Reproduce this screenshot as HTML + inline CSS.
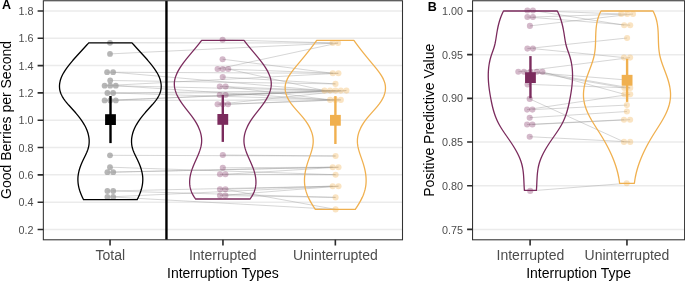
<!DOCTYPE html><html><head><meta charset="utf-8"><style>html,body{margin:0;padding:0;background:#fff;}svg{display:block;will-change:transform;font-family:"Liberation Sans",sans-serif;}</style></head><body>
<svg width="685" height="281" viewBox="0 0 685 281">
<path d="M43.4 229.50H402.5 M43.4 202.18H402.5 M43.4 174.86H402.5 M43.4 147.54H402.5 M43.4 120.22H402.5 M43.4 92.90H402.5 M43.4 65.58H402.5 M43.4 38.26H402.5 M43.4 10.94H402.5 M472.6 229.40H684.6 M472.6 185.71H684.6 M472.6 142.02H684.6 M472.6 98.33H684.6 M472.6 54.64H684.6 M472.6 10.95H684.6" stroke="#ebebeb" stroke-width="1.5" fill="none"/>
<g stroke="#9a9a9a" stroke-width="0.90" fill="none" stroke-opacity="0.45">
<path d="M110.0 42.8L332.6 43.0"/>
<path d="M110.0 53.9L338.1 43.0"/>
<path d="M107.1 72.2L332.8 73.3"/>
<path d="M113.1 72.2L324.5 90.6"/>
<path d="M110.2 80.5L335.5 83.9"/>
<path d="M104.6 85.7L338.4 73.3"/>
<path d="M110.2 85.7L330.1 90.6"/>
<path d="M115.8 85.7L330.1 99.9"/>
<path d="M107.4 93.0L335.5 90.6"/>
<path d="M113.1 93.0L340.8 99.9"/>
<path d="M104.6 100.4L340.8 90.6"/>
<path d="M115.8 100.4L335.4 99.9"/>
<path d="M110.0 155.3L335.6 156.0"/>
<path d="M110.0 167.2L335.6 174.7"/>
<path d="M107.4 172.2L332.7 167.2"/>
<path d="M113.2 172.2L338.5 167.2"/>
<path d="M107.4 191.0L332.7 186.2"/>
<path d="M113.2 191.0L335.6 197.4"/>
<path d="M107.4 197.0L338.5 186.2"/>
<path d="M113.2 197.0L335.6 209.4"/>
<path d="M110.2 100.4L346.4 90.6"/>
<path d="M222.6 39.8L332.6 43.0"/>
<path d="M222.6 59.2L332.8 73.3"/>
<path d="M217.6 69.0L338.1 43.0"/>
<path d="M222.7 69.0L338.4 73.3"/>
<path d="M228.2 69.0L324.5 90.6"/>
<path d="M222.7 77.0L335.5 83.9"/>
<path d="M219.8 86.5L330.1 90.6"/>
<path d="M225.6 86.5L330.1 99.9"/>
<path d="M219.8 95.0L335.5 90.6"/>
<path d="M225.6 95.0L340.8 90.6"/>
<path d="M217.6 104.3L346.4 90.6"/>
<path d="M228.0 104.3L340.8 99.9"/>
<path d="M222.8 155.0L335.6 156.0"/>
<path d="M222.8 167.8L332.7 167.2"/>
<path d="M220.0 174.3L335.6 174.7"/>
<path d="M225.4 174.3L338.5 167.2"/>
<path d="M220.0 189.3L332.7 186.2"/>
<path d="M225.4 189.3L335.6 209.4"/>
<path d="M220.0 195.6L338.5 186.2"/>
<path d="M225.4 195.6L335.6 197.4"/>
<path d="M222.8 104.3L335.4 99.9"/>
<path d="M527.4 10.5L621.2 14.0"/>
<path d="M532.9 10.5L624.2 25.2"/>
<path d="M527.4 17.0L630.2 25.2"/>
<path d="M532.9 17.0L627.2 14.0"/>
<path d="M529.9 25.9L633.0 14.0"/>
<path d="M527.4 48.6L627.1 38.0"/>
<path d="M532.9 48.6L624.0 57.6"/>
<path d="M518.3 71.8L630.1 57.6"/>
<path d="M524.0 71.8L627.1 80.0"/>
<path d="M530.4 71.8L624.4 87.9"/>
<path d="M536.8 71.8L630.2 87.9"/>
<path d="M542.4 71.8L624.4 94.3"/>
<path d="M529.7 98.9L624.0 141.9"/>
<path d="M527.1 109.6L630.2 94.3"/>
<path d="M532.4 109.6L626.9 105.1"/>
<path d="M529.7 117.7L626.9 111.5"/>
<path d="M527.1 124.5L624.0 119.7"/>
<path d="M532.4 124.5L630.1 119.7"/>
<path d="M529.7 136.7L630.2 141.9"/>
<path d="M530.2 190.9L626.7 183.3"/>
<path d="M527.6 84.4L630.2 87.9"/>
</g>
<g fill="#9e9e9e" fill-opacity="0.75"><circle cx="110.0" cy="42.8" r="2.90"/><circle cx="110.0" cy="53.9" r="2.90"/><circle cx="107.1" cy="72.2" r="2.90"/><circle cx="113.1" cy="72.2" r="2.90"/><circle cx="110.2" cy="80.5" r="2.90"/><circle cx="104.6" cy="85.7" r="2.90"/><circle cx="110.2" cy="85.7" r="2.90"/><circle cx="115.8" cy="85.7" r="2.90"/><circle cx="107.4" cy="93.0" r="2.90"/><circle cx="113.1" cy="93.0" r="2.90"/><circle cx="104.6" cy="100.4" r="2.90"/><circle cx="115.8" cy="100.4" r="2.90"/><circle cx="110.0" cy="155.3" r="2.90"/><circle cx="110.0" cy="167.2" r="2.90"/><circle cx="107.4" cy="172.2" r="2.90"/><circle cx="113.2" cy="172.2" r="2.90"/><circle cx="107.4" cy="191.0" r="2.90"/><circle cx="113.2" cy="191.0" r="2.90"/><circle cx="107.4" cy="197.0" r="2.90"/><circle cx="113.2" cy="197.0" r="2.90"/><circle cx="110.2" cy="100.4" r="2.90"/></g>
<g fill="#7b2b5d" fill-opacity="0.33"><circle cx="222.6" cy="39.8" r="3.05"/><circle cx="222.6" cy="59.2" r="3.05"/><circle cx="217.6" cy="69.0" r="3.05"/><circle cx="222.7" cy="69.0" r="3.05"/><circle cx="228.2" cy="69.0" r="3.05"/><circle cx="222.7" cy="77.0" r="3.05"/><circle cx="219.8" cy="86.5" r="3.05"/><circle cx="225.6" cy="86.5" r="3.05"/><circle cx="219.8" cy="95.0" r="3.05"/><circle cx="225.6" cy="95.0" r="3.05"/><circle cx="217.6" cy="104.3" r="3.05"/><circle cx="228.0" cy="104.3" r="3.05"/><circle cx="222.8" cy="155.0" r="3.05"/><circle cx="222.8" cy="167.8" r="3.05"/><circle cx="220.0" cy="174.3" r="3.05"/><circle cx="225.4" cy="174.3" r="3.05"/><circle cx="220.0" cy="189.3" r="3.05"/><circle cx="225.4" cy="189.3" r="3.05"/><circle cx="220.0" cy="195.6" r="3.05"/><circle cx="225.4" cy="195.6" r="3.05"/><circle cx="222.8" cy="104.3" r="3.05"/><circle cx="527.4" cy="10.5" r="3.05"/><circle cx="532.9" cy="10.5" r="3.05"/><circle cx="527.4" cy="17.0" r="3.05"/><circle cx="532.9" cy="17.0" r="3.05"/><circle cx="529.9" cy="25.9" r="3.05"/><circle cx="527.4" cy="48.6" r="3.05"/><circle cx="532.9" cy="48.6" r="3.05"/><circle cx="518.3" cy="71.8" r="3.05"/><circle cx="524.0" cy="71.8" r="3.05"/><circle cx="530.4" cy="71.8" r="3.05"/><circle cx="536.8" cy="71.8" r="3.05"/><circle cx="542.4" cy="71.8" r="3.05"/><circle cx="529.7" cy="98.9" r="3.05"/><circle cx="527.1" cy="109.6" r="3.05"/><circle cx="532.4" cy="109.6" r="3.05"/><circle cx="529.7" cy="117.7" r="3.05"/><circle cx="527.1" cy="124.5" r="3.05"/><circle cx="532.4" cy="124.5" r="3.05"/><circle cx="529.7" cy="136.7" r="3.05"/><circle cx="530.2" cy="190.9" r="3.05"/><circle cx="527.6" cy="84.4" r="3.05"/></g>
<g fill="#f0b04f" fill-opacity="0.34"><circle cx="332.6" cy="43.0" r="3.05"/><circle cx="338.1" cy="43.0" r="3.05"/><circle cx="332.8" cy="73.3" r="3.05"/><circle cx="338.4" cy="73.3" r="3.05"/><circle cx="335.5" cy="83.9" r="3.05"/><circle cx="324.5" cy="90.6" r="3.05"/><circle cx="330.1" cy="90.6" r="3.05"/><circle cx="335.5" cy="90.6" r="3.05"/><circle cx="340.8" cy="90.6" r="3.05"/><circle cx="346.4" cy="90.6" r="3.05"/><circle cx="330.1" cy="99.9" r="3.05"/><circle cx="340.8" cy="99.9" r="3.05"/><circle cx="335.6" cy="156.0" r="3.05"/><circle cx="332.7" cy="167.2" r="3.05"/><circle cx="338.5" cy="167.2" r="3.05"/><circle cx="335.6" cy="174.7" r="3.05"/><circle cx="332.7" cy="186.2" r="3.05"/><circle cx="338.5" cy="186.2" r="3.05"/><circle cx="335.6" cy="197.4" r="3.05"/><circle cx="335.6" cy="209.4" r="3.05"/><circle cx="335.4" cy="99.9" r="3.05"/><circle cx="621.2" cy="14.0" r="3.05"/><circle cx="627.2" cy="14.0" r="3.05"/><circle cx="633.0" cy="14.0" r="3.05"/><circle cx="624.2" cy="25.2" r="3.05"/><circle cx="630.2" cy="25.2" r="3.05"/><circle cx="627.1" cy="38.0" r="3.05"/><circle cx="624.0" cy="57.6" r="3.05"/><circle cx="630.1" cy="57.6" r="3.05"/><circle cx="627.1" cy="80.0" r="3.05"/><circle cx="624.4" cy="87.9" r="3.05"/><circle cx="630.2" cy="87.9" r="3.05"/><circle cx="624.4" cy="94.3" r="3.05"/><circle cx="630.2" cy="94.3" r="3.05"/><circle cx="626.9" cy="105.1" r="3.05"/><circle cx="626.9" cy="111.5" r="3.05"/><circle cx="624.0" cy="119.7" r="3.05"/><circle cx="630.1" cy="119.7" r="3.05"/><circle cx="624.0" cy="141.9" r="3.05"/><circle cx="630.2" cy="141.9" r="3.05"/><circle cx="626.7" cy="183.3" r="3.05"/></g>
<g fill="none" stroke-width="1.3" stroke-linejoin="round">
<path d="M88.70 42.80 L88.27 43.30 L87.84 43.80 L87.41 44.30 L86.97 44.80 L86.53 45.30 L86.09 45.80 L85.64 46.30 L85.20 46.80 L84.75 47.30 L84.29 47.80 L83.84 48.30 L83.39 48.80 L82.93 49.30 L82.47 49.80 L82.01 50.30 L81.55 50.80 L81.09 51.30 L80.63 51.80 L80.17 52.30 L79.71 52.80 L79.25 53.30 L78.79 53.80 L78.33 54.30 L77.87 54.80 L77.41 55.30 L76.95 55.80 L76.50 56.30 L76.05 56.80 L75.59 57.30 L75.14 57.80 L74.70 58.30 L74.25 58.80 L73.81 59.30 L73.37 59.80 L72.93 60.30 L72.50 60.80 L72.07 61.30 L71.65 61.80 L71.22 62.30 L70.81 62.80 L70.39 63.30 L69.98 63.80 L69.58 64.30 L69.18 64.80 L68.79 65.30 L68.40 65.80 L68.02 66.30 L67.64 66.80 L67.27 67.30 L66.90 67.80 L66.54 68.30 L66.19 68.80 L65.84 69.30 L65.51 69.80 L65.17 70.30 L64.85 70.80 L64.53 71.30 L64.22 71.80 L63.92 72.30 L63.63 72.80 L63.35 73.30 L63.07 73.80 L62.80 74.30 L62.55 74.80 L62.30 75.30 L62.06 75.80 L61.83 76.30 L61.61 76.80 L61.40 77.30 L61.20 77.80 L61.01 78.30 L60.83 78.80 L60.66 79.30 L60.50 79.80 L60.36 80.30 L60.22 80.80 L60.09 81.30 L59.98 81.80 L59.88 82.30 L59.79 82.80 L59.71 83.30 L59.64 83.80 L59.58 84.30 L59.54 84.80 L59.51 85.30 L59.49 85.80 L59.48 86.30 L59.49 86.80 L59.51 87.30 L59.54 87.80 L59.58 88.30 L59.64 88.80 L59.71 89.30 L59.80 89.80 L59.90 90.30 L60.01 90.80 L60.13 91.30 L60.27 91.80 L60.43 92.30 L60.60 92.80 L60.78 93.30 L60.98 93.80 L61.19 94.30 L61.42 94.80 L61.66 95.30 L61.92 95.80 L62.19 96.30 L62.48 96.80 L62.78 97.30 L63.09 97.80 L63.41 98.30 L63.74 98.80 L64.09 99.30 L64.45 99.80 L64.81 100.30 L65.19 100.80 L65.57 101.30 L65.97 101.80 L66.37 102.30 L66.78 102.80 L67.19 103.30 L67.61 103.80 L68.04 104.30 L68.47 104.80 L68.91 105.30 L69.35 105.80 L69.79 106.30 L70.24 106.80 L70.69 107.30 L71.14 107.80 L71.59 108.30 L72.04 108.80 L72.49 109.30 L72.95 109.80 L73.40 110.30 L73.85 110.80 L74.30 111.30 L74.74 111.80 L75.19 112.30 L75.63 112.80 L76.06 113.30 L76.49 113.80 L76.92 114.30 L77.34 114.80 L77.75 115.30 L78.16 115.80 L78.56 116.30 L78.95 116.80 L79.34 117.30 L79.72 117.80 L80.10 118.30 L80.47 118.80 L80.83 119.30 L81.18 119.80 L81.53 120.30 L81.87 120.80 L82.21 121.30 L82.53 121.80 L82.85 122.30 L83.17 122.80 L83.47 123.30 L83.77 123.80 L84.06 124.30 L84.35 124.80 L84.62 125.30 L84.89 125.80 L85.15 126.30 L85.41 126.80 L85.65 127.30 L85.89 127.80 L86.12 128.30 L86.35 128.80 L86.56 129.30 L86.77 129.80 L86.97 130.30 L87.16 130.80 L87.34 131.30 L87.51 131.80 L87.68 132.30 L87.84 132.80 L87.99 133.30 L88.13 133.80 L88.26 134.30 L88.38 134.80 L88.50 135.30 L88.60 135.80 L88.70 136.30 L88.79 136.80 L88.87 137.30 L88.94 137.80 L89.00 138.30 L89.05 138.80 L89.10 139.30 L89.13 139.80 L89.15 140.30 L89.17 140.80 L89.17 141.30 L89.17 141.80 L89.16 142.30 L89.13 142.80 L89.10 143.30 L89.06 143.80 L89.00 144.30 L88.94 144.80 L88.87 145.30 L88.79 145.80 L88.69 146.30 L88.59 146.80 L88.48 147.30 L88.36 147.80 L88.22 148.30 L88.08 148.80 L87.93 149.30 L87.76 149.80 L87.59 150.30 L87.40 150.80 L87.21 151.30 L87.01 151.80 L86.81 152.30 L86.59 152.80 L86.37 153.30 L86.15 153.80 L85.92 154.30 L85.69 154.80 L85.45 155.30 L85.21 155.80 L84.97 156.30 L84.72 156.80 L84.48 157.30 L84.23 157.80 L83.99 158.30 L83.74 158.80 L83.50 159.30 L83.26 159.80 L83.02 160.30 L82.79 160.80 L82.56 161.30 L82.33 161.80 L82.10 162.30 L81.88 162.80 L81.67 163.30 L81.46 163.80 L81.25 164.30 L81.05 164.80 L80.85 165.30 L80.66 165.80 L80.48 166.30 L80.29 166.80 L80.12 167.30 L79.95 167.80 L79.78 168.30 L79.63 168.80 L79.47 169.30 L79.33 169.80 L79.19 170.30 L79.05 170.80 L78.92 171.30 L78.80 171.80 L78.69 172.30 L78.58 172.80 L78.49 173.30 L78.39 173.80 L78.31 174.30 L78.23 174.80 L78.16 175.30 L78.10 175.80 L78.05 176.30 L78.00 176.80 L77.97 177.30 L77.94 177.80 L77.92 178.30 L77.90 178.80 L77.90 179.30 L77.90 179.80 L77.91 180.30 L77.93 180.80 L77.95 181.30 L77.99 181.80 L78.03 182.30 L78.07 182.80 L78.13 183.30 L78.19 183.80 L78.26 184.30 L78.34 184.80 L78.42 185.30 L78.51 185.80 L78.61 186.30 L78.71 186.80 L78.82 187.30 L78.94 187.80 L79.07 188.30 L79.20 188.80 L79.33 189.30 L79.48 189.80 L79.63 190.30 L79.78 190.80 L79.95 191.30 L80.12 191.80 L80.29 192.30 L80.47 192.80 L80.66 193.30 L80.85 193.80 L81.05 194.30 L81.26 194.80 L81.47 195.30 L81.68 195.80 L81.90 196.30 L82.13 196.80 L82.36 197.30 L82.60 197.80 L82.84 198.30 L83.09 198.80 L83.35 199.30 L83.50 199.60 L137.20 199.60 L137.35 199.30 L137.61 198.80 L137.86 198.30 L138.10 197.80 L138.34 197.30 L138.57 196.80 L138.80 196.30 L139.02 195.80 L139.23 195.30 L139.44 194.80 L139.65 194.30 L139.85 193.80 L140.04 193.30 L140.23 192.80 L140.41 192.30 L140.58 191.80 L140.75 191.30 L140.92 190.80 L141.07 190.30 L141.22 189.80 L141.37 189.30 L141.50 188.80 L141.63 188.30 L141.76 187.80 L141.88 187.30 L141.99 186.80 L142.09 186.30 L142.19 185.80 L142.28 185.30 L142.36 184.80 L142.44 184.30 L142.51 183.80 L142.57 183.30 L142.63 182.80 L142.67 182.30 L142.71 181.80 L142.75 181.30 L142.77 180.80 L142.79 180.30 L142.80 179.80 L142.80 179.30 L142.80 178.80 L142.78 178.30 L142.76 177.80 L142.73 177.30 L142.70 176.80 L142.65 176.30 L142.60 175.80 L142.54 175.30 L142.47 174.80 L142.39 174.30 L142.31 173.80 L142.21 173.30 L142.12 172.80 L142.01 172.30 L141.90 171.80 L141.78 171.30 L141.65 170.80 L141.51 170.30 L141.37 169.80 L141.23 169.30 L141.07 168.80 L140.92 168.30 L140.75 167.80 L140.58 167.30 L140.41 166.80 L140.22 166.30 L140.04 165.80 L139.85 165.30 L139.65 164.80 L139.45 164.30 L139.24 163.80 L139.03 163.30 L138.82 162.80 L138.60 162.30 L138.37 161.80 L138.14 161.30 L137.91 160.80 L137.68 160.30 L137.44 159.80 L137.20 159.30 L136.96 158.80 L136.71 158.30 L136.47 157.80 L136.22 157.30 L135.98 156.80 L135.73 156.30 L135.49 155.80 L135.25 155.30 L135.01 154.80 L134.78 154.30 L134.55 153.80 L134.33 153.30 L134.11 152.80 L133.89 152.30 L133.69 151.80 L133.49 151.30 L133.30 150.80 L133.11 150.30 L132.94 149.80 L132.77 149.30 L132.62 148.80 L132.48 148.30 L132.34 147.80 L132.22 147.30 L132.11 146.80 L132.01 146.30 L131.91 145.80 L131.83 145.30 L131.76 144.80 L131.70 144.30 L131.64 143.80 L131.60 143.30 L131.57 142.80 L131.54 142.30 L131.53 141.80 L131.53 141.30 L131.53 140.80 L131.55 140.30 L131.57 139.80 L131.60 139.30 L131.65 138.80 L131.70 138.30 L131.76 137.80 L131.83 137.30 L131.91 136.80 L132.00 136.30 L132.10 135.80 L132.20 135.30 L132.32 134.80 L132.44 134.30 L132.57 133.80 L132.71 133.30 L132.86 132.80 L133.02 132.30 L133.19 131.80 L133.36 131.30 L133.54 130.80 L133.73 130.30 L133.93 129.80 L134.14 129.30 L134.35 128.80 L134.58 128.30 L134.81 127.80 L135.05 127.30 L135.29 126.80 L135.55 126.30 L135.81 125.80 L136.08 125.30 L136.35 124.80 L136.64 124.30 L136.93 123.80 L137.23 123.30 L137.53 122.80 L137.85 122.30 L138.17 121.80 L138.49 121.30 L138.83 120.80 L139.17 120.30 L139.52 119.80 L139.87 119.30 L140.23 118.80 L140.60 118.30 L140.98 117.80 L141.36 117.30 L141.75 116.80 L142.14 116.30 L142.54 115.80 L142.95 115.30 L143.36 114.80 L143.78 114.30 L144.21 113.80 L144.64 113.30 L145.07 112.80 L145.51 112.30 L145.96 111.80 L146.40 111.30 L146.85 110.80 L147.30 110.30 L147.75 109.80 L148.21 109.30 L148.66 108.80 L149.11 108.30 L149.56 107.80 L150.01 107.30 L150.46 106.80 L150.91 106.30 L151.35 105.80 L151.79 105.30 L152.23 104.80 L152.66 104.30 L153.09 103.80 L153.51 103.30 L153.92 102.80 L154.33 102.30 L154.73 101.80 L155.13 101.30 L155.51 100.80 L155.89 100.30 L156.25 99.80 L156.61 99.30 L156.96 98.80 L157.29 98.30 L157.61 97.80 L157.92 97.30 L158.22 96.80 L158.51 96.30 L158.78 95.80 L159.04 95.30 L159.28 94.80 L159.51 94.30 L159.72 93.80 L159.92 93.30 L160.10 92.80 L160.27 92.30 L160.43 91.80 L160.57 91.30 L160.69 90.80 L160.80 90.30 L160.90 89.80 L160.99 89.30 L161.06 88.80 L161.12 88.30 L161.16 87.80 L161.19 87.30 L161.21 86.80 L161.22 86.30 L161.21 85.80 L161.19 85.30 L161.16 84.80 L161.12 84.30 L161.06 83.80 L160.99 83.30 L160.91 82.80 L160.82 82.30 L160.72 81.80 L160.61 81.30 L160.48 80.80 L160.34 80.30 L160.20 79.80 L160.04 79.30 L159.87 78.80 L159.69 78.30 L159.50 77.80 L159.30 77.30 L159.09 76.80 L158.87 76.30 L158.64 75.80 L158.40 75.30 L158.15 74.80 L157.90 74.30 L157.63 73.80 L157.35 73.30 L157.07 72.80 L156.78 72.30 L156.48 71.80 L156.17 71.30 L155.85 70.80 L155.53 70.30 L155.19 69.80 L154.86 69.30 L154.51 68.80 L154.16 68.30 L153.80 67.80 L153.43 67.30 L153.06 66.80 L152.68 66.30 L152.30 65.80 L151.91 65.30 L151.52 64.80 L151.12 64.30 L150.72 63.80 L150.31 63.30 L149.89 62.80 L149.48 62.30 L149.05 61.80 L148.63 61.30 L148.20 60.80 L147.77 60.30 L147.33 59.80 L146.89 59.30 L146.45 58.80 L146.00 58.30 L145.56 57.80 L145.11 57.30 L144.65 56.80 L144.20 56.30 L143.75 55.80 L143.29 55.30 L142.83 54.80 L142.37 54.30 L141.91 53.80 L141.45 53.30 L140.99 52.80 L140.53 52.30 L140.07 51.80 L139.61 51.30 L139.15 50.80 L138.69 50.30 L138.23 49.80 L137.77 49.30 L137.31 48.80 L136.86 48.30 L136.41 47.80 L135.95 47.30 L135.50 46.80 L135.06 46.30 L134.61 45.80 L134.17 45.30 L133.73 44.80 L133.29 44.30 L132.86 43.80 L132.43 43.30 L132.00 42.80 Z" stroke="#000000"/>
<path d="M201.60 40.40 L201.23 40.90 L200.85 41.40 L200.47 41.90 L200.09 42.40 L199.70 42.90 L199.31 43.40 L198.92 43.90 L198.52 44.40 L198.12 44.90 L197.71 45.40 L197.31 45.90 L196.90 46.40 L196.49 46.90 L196.08 47.40 L195.66 47.90 L195.25 48.40 L194.83 48.90 L194.41 49.40 L193.99 49.90 L193.57 50.40 L193.15 50.90 L192.73 51.40 L192.30 51.90 L191.88 52.40 L191.46 52.90 L191.04 53.40 L190.62 53.90 L190.20 54.40 L189.78 54.90 L189.37 55.40 L188.95 55.90 L188.54 56.40 L188.12 56.90 L187.71 57.40 L187.31 57.90 L186.90 58.40 L186.50 58.90 L186.10 59.40 L185.70 59.90 L185.31 60.40 L184.92 60.90 L184.53 61.40 L184.15 61.90 L183.77 62.40 L183.40 62.90 L183.03 63.40 L182.67 63.90 L182.31 64.40 L181.95 64.90 L181.61 65.40 L181.26 65.90 L180.93 66.40 L180.59 66.90 L180.27 67.40 L179.95 67.90 L179.64 68.40 L179.33 68.90 L179.03 69.40 L178.74 69.90 L178.46 70.40 L178.18 70.90 L177.91 71.40 L177.65 71.90 L177.40 72.40 L177.16 72.90 L176.92 73.40 L176.69 73.90 L176.48 74.40 L176.27 74.90 L176.07 75.40 L175.88 75.90 L175.70 76.40 L175.53 76.90 L175.37 77.40 L175.22 77.90 L175.08 78.40 L174.96 78.90 L174.84 79.40 L174.74 79.90 L174.64 80.40 L174.56 80.90 L174.49 81.40 L174.43 81.90 L174.39 82.40 L174.36 82.90 L174.34 83.40 L174.33 83.90 L174.33 84.40 L174.35 84.90 L174.38 85.40 L174.42 85.90 L174.47 86.40 L174.53 86.90 L174.61 87.40 L174.69 87.90 L174.79 88.40 L174.90 88.90 L175.02 89.40 L175.15 89.90 L175.28 90.40 L175.43 90.90 L175.59 91.40 L175.76 91.90 L175.94 92.40 L176.13 92.90 L176.32 93.40 L176.53 93.90 L176.74 94.40 L176.97 94.90 L177.20 95.40 L177.44 95.90 L177.69 96.40 L177.94 96.90 L178.21 97.40 L178.48 97.90 L178.76 98.40 L179.05 98.90 L179.34 99.40 L179.64 99.90 L179.95 100.40 L180.27 100.90 L180.59 101.40 L180.92 101.90 L181.25 102.40 L181.59 102.90 L181.94 103.40 L182.29 103.90 L182.65 104.40 L183.01 104.90 L183.38 105.40 L183.75 105.90 L184.13 106.40 L184.51 106.90 L184.89 107.40 L185.27 107.90 L185.66 108.40 L186.05 108.90 L186.45 109.40 L186.84 109.90 L187.23 110.40 L187.63 110.90 L188.02 111.40 L188.42 111.90 L188.81 112.40 L189.20 112.90 L189.60 113.40 L189.98 113.90 L190.37 114.40 L190.76 114.90 L191.14 115.40 L191.52 115.90 L191.89 116.40 L192.26 116.90 L192.62 117.40 L192.98 117.90 L193.34 118.40 L193.69 118.90 L194.03 119.40 L194.37 119.90 L194.70 120.40 L195.02 120.90 L195.33 121.40 L195.64 121.90 L195.95 122.40 L196.24 122.90 L196.53 123.40 L196.81 123.90 L197.09 124.40 L197.35 124.90 L197.61 125.40 L197.86 125.90 L198.11 126.40 L198.35 126.90 L198.58 127.40 L198.80 127.90 L199.01 128.40 L199.22 128.90 L199.42 129.40 L199.61 129.90 L199.79 130.40 L199.96 130.90 L200.13 131.40 L200.29 131.90 L200.44 132.40 L200.58 132.90 L200.71 133.40 L200.84 133.90 L200.96 134.40 L201.06 134.90 L201.16 135.40 L201.25 135.90 L201.33 136.40 L201.40 136.90 L201.47 137.40 L201.52 137.90 L201.57 138.40 L201.60 138.90 L201.63 139.40 L201.65 139.90 L201.65 140.40 L201.65 140.90 L201.64 141.40 L201.62 141.90 L201.59 142.40 L201.55 142.90 L201.50 143.40 L201.44 143.90 L201.37 144.40 L201.29 144.90 L201.20 145.40 L201.10 145.90 L200.99 146.40 L200.88 146.90 L200.75 147.40 L200.62 147.90 L200.48 148.40 L200.34 148.90 L200.18 149.40 L200.02 149.90 L199.86 150.40 L199.68 150.90 L199.50 151.40 L199.32 151.90 L199.13 152.40 L198.94 152.90 L198.74 153.40 L198.54 153.90 L198.34 154.40 L198.13 154.90 L197.91 155.40 L197.70 155.90 L197.48 156.40 L197.26 156.90 L197.04 157.40 L196.82 157.90 L196.60 158.40 L196.37 158.90 L196.15 159.40 L195.93 159.90 L195.70 160.40 L195.48 160.90 L195.25 161.40 L195.03 161.90 L194.81 162.40 L194.59 162.90 L194.37 163.40 L194.16 163.90 L193.95 164.40 L193.74 164.90 L193.53 165.40 L193.33 165.90 L193.13 166.40 L192.94 166.90 L192.75 167.40 L192.56 167.90 L192.38 168.40 L192.20 168.90 L192.03 169.40 L191.86 169.90 L191.70 170.40 L191.54 170.90 L191.39 171.40 L191.24 171.90 L191.10 172.40 L190.96 172.90 L190.83 173.40 L190.71 173.90 L190.59 174.40 L190.48 174.90 L190.37 175.40 L190.27 175.90 L190.18 176.40 L190.09 176.90 L190.02 177.40 L189.94 177.90 L189.88 178.40 L189.82 178.90 L189.78 179.40 L189.74 179.90 L189.70 180.40 L189.68 180.90 L189.66 181.40 L189.65 181.90 L189.65 182.40 L189.66 182.90 L189.68 183.40 L189.71 183.90 L189.75 184.40 L189.79 184.90 L189.85 185.40 L189.92 185.90 L189.99 186.40 L190.08 186.90 L190.17 187.40 L190.28 187.90 L190.39 188.40 L190.52 188.90 L190.66 189.40 L190.81 189.90 L190.97 190.40 L191.14 190.90 L191.32 191.40 L191.51 191.90 L191.72 192.40 L191.94 192.90 L192.17 193.40 L192.41 193.90 L192.66 194.40 L192.93 194.90 L193.21 195.40 L193.50 195.90 L193.80 196.40 L194.12 196.90 L194.45 197.40 L194.80 197.90 L195.15 198.40 L195.52 198.90 L195.60 199.00 L250.00 199.00 L250.08 198.90 L250.45 198.40 L250.80 197.90 L251.15 197.40 L251.48 196.90 L251.80 196.40 L252.10 195.90 L252.39 195.40 L252.67 194.90 L252.94 194.40 L253.19 193.90 L253.43 193.40 L253.66 192.90 L253.88 192.40 L254.09 191.90 L254.28 191.40 L254.46 190.90 L254.63 190.40 L254.79 189.90 L254.94 189.40 L255.08 188.90 L255.21 188.40 L255.32 187.90 L255.43 187.40 L255.52 186.90 L255.61 186.40 L255.68 185.90 L255.75 185.40 L255.81 184.90 L255.85 184.40 L255.89 183.90 L255.92 183.40 L255.94 182.90 L255.95 182.40 L255.95 181.90 L255.94 181.40 L255.92 180.90 L255.90 180.40 L255.86 179.90 L255.82 179.40 L255.78 178.90 L255.72 178.40 L255.66 177.90 L255.58 177.40 L255.51 176.90 L255.42 176.40 L255.33 175.90 L255.23 175.40 L255.12 174.90 L255.01 174.40 L254.89 173.90 L254.77 173.40 L254.64 172.90 L254.50 172.40 L254.36 171.90 L254.21 171.40 L254.06 170.90 L253.90 170.40 L253.74 169.90 L253.57 169.40 L253.40 168.90 L253.22 168.40 L253.04 167.90 L252.85 167.40 L252.66 166.90 L252.47 166.40 L252.27 165.90 L252.07 165.40 L251.86 164.90 L251.65 164.40 L251.44 163.90 L251.23 163.40 L251.01 162.90 L250.79 162.40 L250.57 161.90 L250.35 161.40 L250.12 160.90 L249.90 160.40 L249.67 159.90 L249.45 159.40 L249.23 158.90 L249.00 158.40 L248.78 157.90 L248.56 157.40 L248.34 156.90 L248.12 156.40 L247.90 155.90 L247.69 155.40 L247.47 154.90 L247.26 154.40 L247.06 153.90 L246.86 153.40 L246.66 152.90 L246.47 152.40 L246.28 151.90 L246.10 151.40 L245.92 150.90 L245.74 150.40 L245.58 149.90 L245.42 149.40 L245.26 148.90 L245.12 148.40 L244.98 147.90 L244.85 147.40 L244.72 146.90 L244.61 146.40 L244.50 145.90 L244.40 145.40 L244.31 144.90 L244.23 144.40 L244.16 143.90 L244.10 143.40 L244.05 142.90 L244.01 142.40 L243.98 141.90 L243.96 141.40 L243.95 140.90 L243.95 140.40 L243.95 139.90 L243.97 139.40 L244.00 138.90 L244.03 138.40 L244.08 137.90 L244.13 137.40 L244.20 136.90 L244.27 136.40 L244.35 135.90 L244.44 135.40 L244.54 134.90 L244.64 134.40 L244.76 133.90 L244.89 133.40 L245.02 132.90 L245.16 132.40 L245.31 131.90 L245.47 131.40 L245.64 130.90 L245.81 130.40 L245.99 129.90 L246.18 129.40 L246.38 128.90 L246.59 128.40 L246.80 127.90 L247.02 127.40 L247.25 126.90 L247.49 126.40 L247.74 125.90 L247.99 125.40 L248.25 124.90 L248.51 124.40 L248.79 123.90 L249.07 123.40 L249.36 122.90 L249.65 122.40 L249.96 121.90 L250.27 121.40 L250.58 120.90 L250.90 120.40 L251.23 119.90 L251.57 119.40 L251.91 118.90 L252.26 118.40 L252.62 117.90 L252.98 117.40 L253.34 116.90 L253.71 116.40 L254.08 115.90 L254.46 115.40 L254.84 114.90 L255.23 114.40 L255.62 113.90 L256.00 113.40 L256.40 112.90 L256.79 112.40 L257.18 111.90 L257.58 111.40 L257.97 110.90 L258.37 110.40 L258.76 109.90 L259.15 109.40 L259.55 108.90 L259.94 108.40 L260.33 107.90 L260.71 107.40 L261.09 106.90 L261.47 106.40 L261.85 105.90 L262.22 105.40 L262.59 104.90 L262.95 104.40 L263.31 103.90 L263.66 103.40 L264.01 102.90 L264.35 102.40 L264.68 101.90 L265.01 101.40 L265.33 100.90 L265.65 100.40 L265.96 99.90 L266.26 99.40 L266.55 98.90 L266.84 98.40 L267.12 97.90 L267.39 97.40 L267.66 96.90 L267.91 96.40 L268.16 95.90 L268.40 95.40 L268.63 94.90 L268.86 94.40 L269.07 93.90 L269.28 93.40 L269.47 92.90 L269.66 92.40 L269.84 91.90 L270.01 91.40 L270.17 90.90 L270.32 90.40 L270.45 89.90 L270.58 89.40 L270.70 88.90 L270.81 88.40 L270.91 87.90 L270.99 87.40 L271.07 86.90 L271.13 86.40 L271.18 85.90 L271.22 85.40 L271.25 84.90 L271.27 84.40 L271.27 83.90 L271.26 83.40 L271.24 82.90 L271.21 82.40 L271.17 81.90 L271.11 81.40 L271.04 80.90 L270.96 80.40 L270.86 79.90 L270.76 79.40 L270.64 78.90 L270.52 78.40 L270.38 77.90 L270.23 77.40 L270.07 76.90 L269.90 76.40 L269.72 75.90 L269.53 75.40 L269.33 74.90 L269.12 74.40 L268.91 73.90 L268.68 73.40 L268.44 72.90 L268.20 72.40 L267.95 71.90 L267.69 71.40 L267.42 70.90 L267.14 70.40 L266.86 69.90 L266.57 69.40 L266.27 68.90 L265.96 68.40 L265.65 67.90 L265.33 67.40 L265.01 66.90 L264.67 66.40 L264.34 65.90 L263.99 65.40 L263.65 64.90 L263.29 64.40 L262.93 63.90 L262.57 63.40 L262.20 62.90 L261.83 62.40 L261.45 61.90 L261.07 61.40 L260.68 60.90 L260.29 60.40 L259.90 59.90 L259.50 59.40 L259.10 58.90 L258.70 58.40 L258.29 57.90 L257.89 57.40 L257.48 56.90 L257.06 56.40 L256.65 55.90 L256.23 55.40 L255.82 54.90 L255.40 54.40 L254.98 53.90 L254.56 53.40 L254.14 52.90 L253.72 52.40 L253.30 51.90 L252.87 51.40 L252.45 50.90 L252.03 50.40 L251.61 49.90 L251.19 49.40 L250.77 48.90 L250.35 48.40 L249.94 47.90 L249.52 47.40 L249.11 46.90 L248.70 46.40 L248.29 45.90 L247.89 45.40 L247.48 44.90 L247.08 44.40 L246.68 43.90 L246.29 43.40 L245.90 42.90 L245.51 42.40 L245.13 41.90 L244.75 41.40 L244.37 40.90 L244.00 40.40 Z" stroke="#7b2b5d"/>
<path d="M316.70 40.40 L316.34 40.90 L315.99 41.40 L315.63 41.90 L315.26 42.40 L314.90 42.90 L314.53 43.40 L314.16 43.90 L313.79 44.40 L313.42 44.90 L313.05 45.40 L312.67 45.90 L312.29 46.40 L311.91 46.90 L311.53 47.40 L311.15 47.90 L310.76 48.40 L310.37 48.90 L309.99 49.40 L309.60 49.90 L309.20 50.40 L308.81 50.90 L308.42 51.40 L308.02 51.90 L307.62 52.40 L307.22 52.90 L306.82 53.40 L306.42 53.90 L306.02 54.40 L305.61 54.90 L305.21 55.40 L304.80 55.90 L304.40 56.40 L303.99 56.90 L303.58 57.40 L303.17 57.90 L302.76 58.40 L302.34 58.90 L301.93 59.40 L301.52 59.90 L301.10 60.40 L300.68 60.90 L300.27 61.40 L299.85 61.90 L299.43 62.40 L299.02 62.90 L298.60 63.40 L298.18 63.90 L297.76 64.40 L297.34 64.90 L296.92 65.40 L296.51 65.90 L296.09 66.40 L295.68 66.90 L295.27 67.40 L294.86 67.90 L294.46 68.40 L294.06 68.90 L293.67 69.40 L293.27 69.90 L292.89 70.40 L292.51 70.90 L292.13 71.40 L291.76 71.90 L291.39 72.40 L291.04 72.90 L290.69 73.40 L290.34 73.90 L290.01 74.40 L289.68 74.90 L289.36 75.40 L289.05 75.90 L288.75 76.40 L288.46 76.90 L288.17 77.40 L287.90 77.90 L287.64 78.40 L287.39 78.90 L287.15 79.40 L286.93 79.90 L286.71 80.40 L286.51 80.90 L286.32 81.40 L286.15 81.90 L285.99 82.40 L285.84 82.90 L285.70 83.40 L285.58 83.90 L285.48 84.40 L285.39 84.90 L285.31 85.40 L285.25 85.90 L285.20 86.40 L285.16 86.90 L285.14 87.40 L285.13 87.90 L285.13 88.40 L285.15 88.90 L285.18 89.40 L285.23 89.90 L285.28 90.40 L285.35 90.90 L285.43 91.40 L285.53 91.90 L285.64 92.40 L285.76 92.90 L285.89 93.40 L286.03 93.90 L286.19 94.40 L286.36 94.90 L286.54 95.40 L286.73 95.90 L286.93 96.40 L287.15 96.90 L287.38 97.40 L287.61 97.90 L287.86 98.40 L288.13 98.90 L288.40 99.40 L288.68 99.90 L288.98 100.40 L289.28 100.90 L289.60 101.40 L289.92 101.90 L290.26 102.40 L290.61 102.90 L290.97 103.40 L291.33 103.90 L291.71 104.40 L292.10 104.90 L292.49 105.40 L292.89 105.90 L293.30 106.40 L293.71 106.90 L294.13 107.40 L294.55 107.90 L294.98 108.40 L295.42 108.90 L295.85 109.40 L296.29 109.90 L296.73 110.40 L297.18 110.90 L297.62 111.40 L298.07 111.90 L298.52 112.40 L298.96 112.90 L299.41 113.40 L299.85 113.90 L300.29 114.40 L300.73 114.90 L301.17 115.40 L301.60 115.90 L302.03 116.40 L302.45 116.90 L302.87 117.40 L303.28 117.90 L303.69 118.40 L304.08 118.90 L304.48 119.40 L304.86 119.90 L305.23 120.40 L305.60 120.90 L305.96 121.40 L306.31 121.90 L306.65 122.40 L306.99 122.90 L307.32 123.40 L307.63 123.90 L307.94 124.40 L308.25 124.90 L308.54 125.40 L308.82 125.90 L309.10 126.40 L309.37 126.90 L309.63 127.40 L309.88 127.90 L310.12 128.40 L310.35 128.90 L310.58 129.40 L310.79 129.90 L311.00 130.40 L311.20 130.90 L311.39 131.40 L311.57 131.90 L311.74 132.40 L311.90 132.90 L312.05 133.40 L312.19 133.90 L312.33 134.40 L312.45 134.90 L312.57 135.40 L312.68 135.90 L312.77 136.40 L312.86 136.90 L312.94 137.40 L313.01 137.90 L313.06 138.40 L313.11 138.90 L313.15 139.40 L313.18 139.90 L313.20 140.40 L313.21 140.90 L313.21 141.40 L313.20 141.90 L313.18 142.40 L313.15 142.90 L313.11 143.40 L313.07 143.90 L313.01 144.40 L312.94 144.90 L312.87 145.40 L312.79 145.90 L312.70 146.40 L312.61 146.90 L312.50 147.40 L312.39 147.90 L312.28 148.40 L312.16 148.90 L312.03 149.40 L311.90 149.90 L311.76 150.40 L311.62 150.90 L311.47 151.40 L311.32 151.90 L311.16 152.40 L311.00 152.90 L310.84 153.40 L310.68 153.90 L310.51 154.40 L310.34 154.90 L310.17 155.40 L310.00 155.90 L309.83 156.40 L309.65 156.90 L309.48 157.40 L309.30 157.90 L309.13 158.40 L308.95 158.90 L308.78 159.40 L308.60 159.90 L308.43 160.40 L308.26 160.90 L308.09 161.40 L307.92 161.90 L307.76 162.40 L307.60 162.90 L307.44 163.40 L307.28 163.90 L307.13 164.40 L306.98 164.90 L306.84 165.40 L306.69 165.90 L306.56 166.40 L306.42 166.90 L306.29 167.40 L306.16 167.90 L306.04 168.40 L305.92 168.90 L305.81 169.40 L305.69 169.90 L305.59 170.40 L305.49 170.90 L305.39 171.40 L305.29 171.90 L305.20 172.40 L305.12 172.90 L305.04 173.40 L304.97 173.90 L304.90 174.40 L304.83 174.90 L304.77 175.40 L304.72 175.90 L304.67 176.40 L304.63 176.90 L304.59 177.40 L304.55 177.90 L304.53 178.40 L304.51 178.90 L304.49 179.40 L304.48 179.90 L304.48 180.40 L304.48 180.90 L304.49 181.40 L304.50 181.90 L304.52 182.40 L304.55 182.90 L304.58 183.40 L304.62 183.90 L304.67 184.40 L304.72 184.90 L304.78 185.40 L304.85 185.90 L304.92 186.40 L305.00 186.90 L305.09 187.40 L305.19 187.90 L305.29 188.40 L305.40 188.90 L305.52 189.40 L305.64 189.90 L305.78 190.40 L305.92 190.90 L306.06 191.40 L306.22 191.90 L306.38 192.40 L306.55 192.90 L306.72 193.40 L306.90 193.90 L307.09 194.40 L307.29 194.90 L307.49 195.40 L307.69 195.90 L307.91 196.40 L308.13 196.90 L308.35 197.40 L308.59 197.90 L308.83 198.40 L309.07 198.90 L309.32 199.40 L309.57 199.90 L309.83 200.40 L310.10 200.90 L310.37 201.40 L310.65 201.90 L310.93 202.40 L311.22 202.90 L311.51 203.40 L311.81 203.90 L312.11 204.40 L312.42 204.90 L312.73 205.40 L313.04 205.90 L313.36 206.40 L313.69 206.90 L314.01 207.40 L314.35 207.90 L314.68 208.40 L315.02 208.90 L315.30 209.30 L355.30 209.30 L355.58 208.90 L355.92 208.40 L356.25 207.90 L356.59 207.40 L356.91 206.90 L357.24 206.40 L357.56 205.90 L357.87 205.40 L358.18 204.90 L358.49 204.40 L358.79 203.90 L359.09 203.40 L359.38 202.90 L359.67 202.40 L359.95 201.90 L360.23 201.40 L360.50 200.90 L360.77 200.40 L361.03 199.90 L361.28 199.40 L361.53 198.90 L361.77 198.40 L362.01 197.90 L362.25 197.40 L362.47 196.90 L362.69 196.40 L362.91 195.90 L363.11 195.40 L363.31 194.90 L363.51 194.40 L363.70 193.90 L363.88 193.40 L364.05 192.90 L364.22 192.40 L364.38 191.90 L364.54 191.40 L364.68 190.90 L364.82 190.40 L364.96 189.90 L365.08 189.40 L365.20 188.90 L365.31 188.40 L365.41 187.90 L365.51 187.40 L365.60 186.90 L365.68 186.40 L365.75 185.90 L365.82 185.40 L365.88 184.90 L365.93 184.40 L365.98 183.90 L366.02 183.40 L366.05 182.90 L366.08 182.40 L366.10 181.90 L366.11 181.40 L366.12 180.90 L366.12 180.40 L366.12 179.90 L366.11 179.40 L366.09 178.90 L366.07 178.40 L366.05 177.90 L366.01 177.40 L365.97 176.90 L365.93 176.40 L365.88 175.90 L365.83 175.40 L365.77 174.90 L365.70 174.40 L365.63 173.90 L365.56 173.40 L365.48 172.90 L365.40 172.40 L365.31 171.90 L365.21 171.40 L365.11 170.90 L365.01 170.40 L364.91 169.90 L364.79 169.40 L364.68 168.90 L364.56 168.40 L364.44 167.90 L364.31 167.40 L364.18 166.90 L364.04 166.40 L363.91 165.90 L363.76 165.40 L363.62 164.90 L363.47 164.40 L363.32 163.90 L363.16 163.40 L363.00 162.90 L362.84 162.40 L362.68 161.90 L362.51 161.40 L362.34 160.90 L362.17 160.40 L362.00 159.90 L361.82 159.40 L361.65 158.90 L361.47 158.40 L361.30 157.90 L361.12 157.40 L360.95 156.90 L360.77 156.40 L360.60 155.90 L360.43 155.40 L360.26 154.90 L360.09 154.40 L359.92 153.90 L359.76 153.40 L359.60 152.90 L359.44 152.40 L359.28 151.90 L359.13 151.40 L358.98 150.90 L358.84 150.40 L358.70 149.90 L358.57 149.40 L358.44 148.90 L358.32 148.40 L358.21 147.90 L358.10 147.40 L357.99 146.90 L357.90 146.40 L357.81 145.90 L357.73 145.40 L357.66 144.90 L357.59 144.40 L357.53 143.90 L357.49 143.40 L357.45 142.90 L357.42 142.40 L357.40 141.90 L357.39 141.40 L357.39 140.90 L357.40 140.40 L357.42 139.90 L357.45 139.40 L357.49 138.90 L357.54 138.40 L357.59 137.90 L357.66 137.40 L357.74 136.90 L357.83 136.40 L357.92 135.90 L358.03 135.40 L358.15 134.90 L358.27 134.40 L358.41 133.90 L358.55 133.40 L358.70 132.90 L358.86 132.40 L359.03 131.90 L359.21 131.40 L359.40 130.90 L359.60 130.40 L359.81 129.90 L360.02 129.40 L360.25 128.90 L360.48 128.40 L360.72 127.90 L360.97 127.40 L361.23 126.90 L361.50 126.40 L361.78 125.90 L362.06 125.40 L362.35 124.90 L362.66 124.40 L362.97 123.90 L363.28 123.40 L363.61 122.90 L363.95 122.40 L364.29 121.90 L364.64 121.40 L365.00 120.90 L365.37 120.40 L365.74 119.90 L366.12 119.40 L366.52 118.90 L366.91 118.40 L367.32 117.90 L367.73 117.40 L368.15 116.90 L368.57 116.40 L369.00 115.90 L369.43 115.40 L369.87 114.90 L370.31 114.40 L370.75 113.90 L371.19 113.40 L371.64 112.90 L372.08 112.40 L372.53 111.90 L372.98 111.40 L373.42 110.90 L373.87 110.40 L374.31 109.90 L374.75 109.40 L375.18 108.90 L375.62 108.40 L376.05 107.90 L376.47 107.40 L376.89 106.90 L377.30 106.40 L377.71 105.90 L378.11 105.40 L378.50 104.90 L378.89 104.40 L379.27 103.90 L379.63 103.40 L379.99 102.90 L380.34 102.40 L380.68 101.90 L381.00 101.40 L381.32 100.90 L381.62 100.40 L381.92 99.90 L382.20 99.40 L382.47 98.90 L382.74 98.40 L382.99 97.90 L383.22 97.40 L383.45 96.90 L383.67 96.40 L383.87 95.90 L384.06 95.40 L384.24 94.90 L384.41 94.40 L384.57 93.90 L384.71 93.40 L384.84 92.90 L384.96 92.40 L385.07 91.90 L385.17 91.40 L385.25 90.90 L385.32 90.40 L385.37 89.90 L385.42 89.40 L385.45 88.90 L385.47 88.40 L385.47 87.90 L385.46 87.40 L385.44 86.90 L385.40 86.40 L385.35 85.90 L385.29 85.40 L385.21 84.90 L385.12 84.40 L385.02 83.90 L384.90 83.40 L384.76 82.90 L384.61 82.40 L384.45 81.90 L384.28 81.40 L384.09 80.90 L383.89 80.40 L383.67 79.90 L383.45 79.40 L383.21 78.90 L382.96 78.40 L382.70 77.90 L382.43 77.40 L382.14 76.90 L381.85 76.40 L381.55 75.90 L381.24 75.40 L380.92 74.90 L380.59 74.40 L380.26 73.90 L379.91 73.40 L379.56 72.90 L379.21 72.40 L378.84 71.90 L378.47 71.40 L378.09 70.90 L377.71 70.40 L377.33 69.90 L376.93 69.40 L376.54 68.90 L376.14 68.40 L375.74 67.90 L375.33 67.40 L374.92 66.90 L374.51 66.40 L374.09 65.90 L373.68 65.40 L373.26 64.90 L372.84 64.40 L372.42 63.90 L372.00 63.40 L371.58 62.90 L371.17 62.40 L370.75 61.90 L370.33 61.40 L369.92 60.90 L369.50 60.40 L369.08 59.90 L368.67 59.40 L368.26 58.90 L367.84 58.40 L367.43 57.90 L367.02 57.40 L366.61 56.90 L366.20 56.40 L365.80 55.90 L365.39 55.40 L364.99 54.90 L364.58 54.40 L364.18 53.90 L363.78 53.40 L363.38 52.90 L362.98 52.40 L362.58 51.90 L362.18 51.40 L361.79 50.90 L361.40 50.40 L361.00 49.90 L360.61 49.40 L360.23 48.90 L359.84 48.40 L359.45 47.90 L359.07 47.40 L358.69 46.90 L358.31 46.40 L357.93 45.90 L357.55 45.40 L357.18 44.90 L356.81 44.40 L356.44 43.90 L356.07 43.40 L355.70 42.90 L355.34 42.40 L354.97 41.90 L354.61 41.40 L354.26 40.90 L353.90 40.40 Z" stroke="#f0b04f"/>
<path d="M503.50 11.00 L503.25 11.50 L503.00 12.00 L502.76 12.50 L502.53 13.00 L502.30 13.50 L502.08 14.00 L501.87 14.50 L501.66 15.00 L501.45 15.50 L501.25 16.00 L501.06 16.50 L500.87 17.00 L500.68 17.50 L500.50 18.00 L500.33 18.50 L500.16 19.00 L499.99 19.50 L499.83 20.00 L499.67 20.50 L499.52 21.00 L499.37 21.50 L499.22 22.00 L499.08 22.50 L498.95 23.00 L498.81 23.50 L498.68 24.00 L498.56 24.50 L498.43 25.00 L498.31 25.50 L498.20 26.00 L498.08 26.50 L497.97 27.00 L497.87 27.50 L497.76 28.00 L497.66 28.50 L497.56 29.00 L497.46 29.50 L497.37 30.00 L497.28 30.50 L497.19 31.00 L497.10 31.50 L497.01 32.00 L496.93 32.50 L496.84 33.00 L496.76 33.50 L496.68 34.00 L496.60 34.50 L496.53 35.00 L496.45 35.50 L496.37 36.00 L496.30 36.50 L496.22 37.00 L496.14 37.50 L496.06 38.00 L495.99 38.50 L495.90 39.00 L495.82 39.50 L495.74 40.00 L495.65 40.50 L495.56 41.00 L495.47 41.50 L495.37 42.00 L495.27 42.50 L495.17 43.00 L495.07 43.50 L494.95 44.00 L494.84 44.50 L494.72 45.00 L494.59 45.50 L494.46 46.00 L494.32 46.50 L494.18 47.00 L494.03 47.50 L493.87 48.00 L493.71 48.50 L493.55 49.00 L493.38 49.50 L493.21 50.00 L493.03 50.50 L492.85 51.00 L492.67 51.50 L492.49 52.00 L492.32 52.50 L492.14 53.00 L491.96 53.50 L491.79 54.00 L491.61 54.50 L491.44 55.00 L491.28 55.50 L491.12 56.00 L490.96 56.50 L490.81 57.00 L490.67 57.50 L490.53 58.00 L490.39 58.50 L490.26 59.00 L490.13 59.50 L490.01 60.00 L489.89 60.50 L489.78 61.00 L489.67 61.50 L489.57 62.00 L489.47 62.50 L489.37 63.00 L489.28 63.50 L489.20 64.00 L489.11 64.50 L489.04 65.00 L488.96 65.50 L488.89 66.00 L488.82 66.50 L488.76 67.00 L488.70 67.50 L488.65 68.00 L488.60 68.50 L488.55 69.00 L488.51 69.50 L488.47 70.00 L488.43 70.50 L488.40 71.00 L488.37 71.50 L488.35 72.00 L488.33 72.50 L488.31 73.00 L488.29 73.50 L488.28 74.00 L488.27 74.50 L488.27 75.00 L488.27 75.50 L488.27 76.00 L488.27 76.50 L488.28 77.00 L488.29 77.50 L488.30 78.00 L488.32 78.50 L488.34 79.00 L488.36 79.50 L488.38 80.00 L488.41 80.50 L488.44 81.00 L488.47 81.50 L488.51 82.00 L488.54 82.50 L488.58 83.00 L488.63 83.50 L488.67 84.00 L488.72 84.50 L488.77 85.00 L488.82 85.50 L488.87 86.00 L488.93 86.50 L488.99 87.00 L489.05 87.50 L489.11 88.00 L489.17 88.50 L489.24 89.00 L489.30 89.50 L489.37 90.00 L489.45 90.50 L489.52 91.00 L489.59 91.50 L489.67 92.00 L489.75 92.50 L489.83 93.00 L489.91 93.50 L489.99 94.00 L490.07 94.50 L490.16 95.00 L490.25 95.50 L490.33 96.00 L490.42 96.50 L490.51 97.00 L490.60 97.50 L490.70 98.00 L490.79 98.50 L490.88 99.00 L490.98 99.50 L491.07 100.00 L491.17 100.50 L491.27 101.00 L491.37 101.50 L491.47 102.00 L491.57 102.50 L491.68 103.00 L491.78 103.50 L491.89 104.00 L492.00 104.50 L492.11 105.00 L492.22 105.50 L492.34 106.00 L492.46 106.50 L492.58 107.00 L492.70 107.50 L492.83 108.00 L492.96 108.50 L493.09 109.00 L493.22 109.50 L493.36 110.00 L493.50 110.50 L493.64 111.00 L493.79 111.50 L493.94 112.00 L494.09 112.50 L494.25 113.00 L494.41 113.50 L494.58 114.00 L494.75 114.50 L494.92 115.00 L495.10 115.50 L495.28 116.00 L495.47 116.50 L495.66 117.00 L495.86 117.50 L496.06 118.00 L496.26 118.50 L496.47 119.00 L496.69 119.50 L496.91 120.00 L497.13 120.50 L497.36 121.00 L497.60 121.50 L497.84 122.00 L498.09 122.50 L498.34 123.00 L498.60 123.50 L498.87 124.00 L499.14 124.50 L499.42 125.00 L499.70 125.50 L499.99 126.00 L500.28 126.50 L500.58 127.00 L500.88 127.50 L501.19 128.00 L501.50 128.50 L501.82 129.00 L502.14 129.50 L502.46 130.00 L502.79 130.50 L503.12 131.00 L503.45 131.50 L503.79 132.00 L504.13 132.50 L504.47 133.00 L504.81 133.50 L505.15 134.00 L505.50 134.50 L505.84 135.00 L506.19 135.50 L506.54 136.00 L506.89 136.50 L507.24 137.00 L507.58 137.50 L507.93 138.00 L508.28 138.50 L508.63 139.00 L508.97 139.50 L509.32 140.00 L509.66 140.50 L510.00 141.00 L510.34 141.50 L510.68 142.00 L511.01 142.50 L511.35 143.00 L511.68 143.50 L512.00 144.00 L512.33 144.50 L512.65 145.00 L512.97 145.50 L513.28 146.00 L513.60 146.50 L513.90 147.00 L514.21 147.50 L514.51 148.00 L514.81 148.50 L515.10 149.00 L515.40 149.50 L515.68 150.00 L515.96 150.50 L516.24 151.00 L516.52 151.50 L516.79 152.00 L517.05 152.50 L517.32 153.00 L517.57 153.50 L517.83 154.00 L518.07 154.50 L518.31 155.00 L518.55 155.50 L518.79 156.00 L519.01 156.50 L519.23 157.00 L519.45 157.50 L519.66 158.00 L519.87 158.50 L520.07 159.00 L520.26 159.50 L520.45 160.00 L520.63 160.50 L520.81 161.00 L520.98 161.50 L521.14 162.00 L521.30 162.50 L521.45 163.00 L521.60 163.50 L521.74 164.00 L521.87 164.50 L521.99 165.00 L522.12 165.50 L522.23 166.00 L522.34 166.50 L522.44 167.00 L522.54 167.50 L522.64 168.00 L522.73 168.50 L522.81 169.00 L522.89 169.50 L522.97 170.00 L523.04 170.50 L523.11 171.00 L523.17 171.50 L523.23 172.00 L523.29 172.50 L523.34 173.00 L523.39 173.50 L523.44 174.00 L523.49 174.50 L523.53 175.00 L523.57 175.50 L523.61 176.00 L523.64 176.50 L523.67 177.00 L523.70 177.50 L523.73 178.00 L523.76 178.50 L523.79 179.00 L523.81 179.50 L523.84 180.00 L523.86 180.50 L523.89 181.00 L523.91 181.50 L523.93 182.00 L523.95 182.50 L523.97 183.00 L524.00 183.50 L524.02 184.00 L524.04 184.50 L524.06 185.00 L524.09 185.50 L524.11 186.00 L524.14 186.50 L524.17 187.00 L524.20 187.50 L524.23 188.00 L524.26 188.50 L524.29 189.00 L524.33 189.50 L524.37 190.00 L524.40 190.40 L536.40 190.40 L536.43 190.00 L536.47 189.50 L536.51 189.00 L536.54 188.50 L536.57 188.00 L536.60 187.50 L536.63 187.00 L536.66 186.50 L536.69 186.00 L536.71 185.50 L536.74 185.00 L536.76 184.50 L536.78 184.00 L536.80 183.50 L536.83 183.00 L536.85 182.50 L536.87 182.00 L536.89 181.50 L536.91 181.00 L536.94 180.50 L536.96 180.00 L536.99 179.50 L537.01 179.00 L537.04 178.50 L537.07 178.00 L537.10 177.50 L537.13 177.00 L537.16 176.50 L537.19 176.00 L537.23 175.50 L537.27 175.00 L537.31 174.50 L537.36 174.00 L537.41 173.50 L537.46 173.00 L537.51 172.50 L537.57 172.00 L537.63 171.50 L537.69 171.00 L537.76 170.50 L537.83 170.00 L537.91 169.50 L537.99 169.00 L538.07 168.50 L538.16 168.00 L538.26 167.50 L538.36 167.00 L538.46 166.50 L538.57 166.00 L538.68 165.50 L538.81 165.00 L538.93 164.50 L539.06 164.00 L539.20 163.50 L539.35 163.00 L539.50 162.50 L539.66 162.00 L539.82 161.50 L539.99 161.00 L540.17 160.50 L540.35 160.00 L540.54 159.50 L540.73 159.00 L540.93 158.50 L541.14 158.00 L541.35 157.50 L541.57 157.00 L541.79 156.50 L542.01 156.00 L542.25 155.50 L542.49 155.00 L542.73 154.50 L542.97 154.00 L543.23 153.50 L543.48 153.00 L543.75 152.50 L544.01 152.00 L544.28 151.50 L544.56 151.00 L544.84 150.50 L545.12 150.00 L545.40 149.50 L545.70 149.00 L545.99 148.50 L546.29 148.00 L546.59 147.50 L546.90 147.00 L547.20 146.50 L547.52 146.00 L547.83 145.50 L548.15 145.00 L548.47 144.50 L548.80 144.00 L549.12 143.50 L549.45 143.00 L549.79 142.50 L550.12 142.00 L550.46 141.50 L550.80 141.00 L551.14 140.50 L551.48 140.00 L551.83 139.50 L552.17 139.00 L552.52 138.50 L552.87 138.00 L553.22 137.50 L553.56 137.00 L553.91 136.50 L554.26 136.00 L554.61 135.50 L554.96 135.00 L555.30 134.50 L555.65 134.00 L555.99 133.50 L556.33 133.00 L556.67 132.50 L557.01 132.00 L557.35 131.50 L557.68 131.00 L558.01 130.50 L558.34 130.00 L558.66 129.50 L558.98 129.00 L559.30 128.50 L559.61 128.00 L559.92 127.50 L560.22 127.00 L560.52 126.50 L560.81 126.00 L561.10 125.50 L561.38 125.00 L561.66 124.50 L561.93 124.00 L562.20 123.50 L562.46 123.00 L562.71 122.50 L562.96 122.00 L563.20 121.50 L563.44 121.00 L563.67 120.50 L563.89 120.00 L564.11 119.50 L564.33 119.00 L564.54 118.50 L564.74 118.00 L564.94 117.50 L565.14 117.00 L565.33 116.50 L565.52 116.00 L565.70 115.50 L565.88 115.00 L566.05 114.50 L566.22 114.00 L566.39 113.50 L566.55 113.00 L566.71 112.50 L566.86 112.00 L567.01 111.50 L567.16 111.00 L567.30 110.50 L567.44 110.00 L567.58 109.50 L567.71 109.00 L567.84 108.50 L567.97 108.00 L568.10 107.50 L568.22 107.00 L568.34 106.50 L568.46 106.00 L568.58 105.50 L568.69 105.00 L568.80 104.50 L568.91 104.00 L569.02 103.50 L569.12 103.00 L569.23 102.50 L569.33 102.00 L569.43 101.50 L569.53 101.00 L569.63 100.50 L569.73 100.00 L569.82 99.50 L569.92 99.00 L570.01 98.50 L570.10 98.00 L570.20 97.50 L570.29 97.00 L570.38 96.50 L570.47 96.00 L570.55 95.50 L570.64 95.00 L570.73 94.50 L570.81 94.00 L570.89 93.50 L570.97 93.00 L571.05 92.50 L571.13 92.00 L571.21 91.50 L571.28 91.00 L571.35 90.50 L571.43 90.00 L571.50 89.50 L571.56 89.00 L571.63 88.50 L571.69 88.00 L571.75 87.50 L571.81 87.00 L571.87 86.50 L571.93 86.00 L571.98 85.50 L572.03 85.00 L572.08 84.50 L572.13 84.00 L572.17 83.50 L572.22 83.00 L572.26 82.50 L572.29 82.00 L572.33 81.50 L572.36 81.00 L572.39 80.50 L572.42 80.00 L572.44 79.50 L572.46 79.00 L572.48 78.50 L572.50 78.00 L572.51 77.50 L572.52 77.00 L572.53 76.50 L572.53 76.00 L572.53 75.50 L572.53 75.00 L572.53 74.50 L572.52 74.00 L572.51 73.50 L572.49 73.00 L572.47 72.50 L572.45 72.00 L572.43 71.50 L572.40 71.00 L572.37 70.50 L572.33 70.00 L572.29 69.50 L572.25 69.00 L572.20 68.50 L572.15 68.00 L572.10 67.50 L572.04 67.00 L571.98 66.50 L571.91 66.00 L571.84 65.50 L571.76 65.00 L571.69 64.50 L571.60 64.00 L571.52 63.50 L571.43 63.00 L571.33 62.50 L571.23 62.00 L571.13 61.50 L571.02 61.00 L570.91 60.50 L570.79 60.00 L570.67 59.50 L570.54 59.00 L570.41 58.50 L570.27 58.00 L570.13 57.50 L569.99 57.00 L569.84 56.50 L569.68 56.00 L569.52 55.50 L569.36 55.00 L569.19 54.50 L569.01 54.00 L568.84 53.50 L568.66 53.00 L568.48 52.50 L568.31 52.00 L568.13 51.50 L567.95 51.00 L567.77 50.50 L567.59 50.00 L567.42 49.50 L567.25 49.00 L567.09 48.50 L566.93 48.00 L566.77 47.50 L566.62 47.00 L566.48 46.50 L566.34 46.00 L566.21 45.50 L566.08 45.00 L565.96 44.50 L565.85 44.00 L565.73 43.50 L565.63 43.00 L565.53 42.50 L565.43 42.00 L565.33 41.50 L565.24 41.00 L565.15 40.50 L565.06 40.00 L564.98 39.50 L564.90 39.00 L564.81 38.50 L564.74 38.00 L564.66 37.50 L564.58 37.00 L564.50 36.50 L564.43 36.00 L564.35 35.50 L564.27 35.00 L564.20 34.50 L564.12 34.00 L564.04 33.50 L563.96 33.00 L563.87 32.50 L563.79 32.00 L563.70 31.50 L563.61 31.00 L563.52 30.50 L563.43 30.00 L563.34 29.50 L563.24 29.00 L563.14 28.50 L563.04 28.00 L562.93 27.50 L562.83 27.00 L562.72 26.50 L562.60 26.00 L562.49 25.50 L562.37 25.00 L562.24 24.50 L562.12 24.00 L561.99 23.50 L561.85 23.00 L561.72 22.50 L561.58 22.00 L561.43 21.50 L561.28 21.00 L561.13 20.50 L560.97 20.00 L560.81 19.50 L560.64 19.00 L560.47 18.50 L560.30 18.00 L560.12 17.50 L559.93 17.00 L559.74 16.50 L559.55 16.00 L559.35 15.50 L559.14 15.00 L558.93 14.50 L558.72 14.00 L558.50 13.50 L558.27 13.00 L558.04 12.50 L557.80 12.00 L557.55 11.50 L557.30 11.00 Z" stroke="#7b2b5d"/>
<path d="M601.00 11.00 L600.74 11.50 L600.48 12.00 L600.24 12.50 L600.00 13.00 L599.78 13.50 L599.56 14.00 L599.35 14.50 L599.15 15.00 L598.95 15.50 L598.77 16.00 L598.59 16.50 L598.41 17.00 L598.25 17.50 L598.09 18.00 L597.94 18.50 L597.80 19.00 L597.66 19.50 L597.53 20.00 L597.40 20.50 L597.28 21.00 L597.17 21.50 L597.06 22.00 L596.96 22.50 L596.87 23.00 L596.78 23.50 L596.69 24.00 L596.61 24.50 L596.53 25.00 L596.46 25.50 L596.39 26.00 L596.33 26.50 L596.27 27.00 L596.21 27.50 L596.16 28.00 L596.11 28.50 L596.07 29.00 L596.03 29.50 L595.99 30.00 L595.95 30.50 L595.92 31.00 L595.89 31.50 L595.86 32.00 L595.83 32.50 L595.81 33.00 L595.79 33.50 L595.77 34.00 L595.75 34.50 L595.73 35.00 L595.72 35.50 L595.70 36.00 L595.69 36.50 L595.67 37.00 L595.66 37.50 L595.65 38.00 L595.64 38.50 L595.62 39.00 L595.61 39.50 L595.60 40.00 L595.59 40.50 L595.57 41.00 L595.56 41.50 L595.54 42.00 L595.53 42.50 L595.51 43.00 L595.49 43.50 L595.47 44.00 L595.45 44.50 L595.42 45.00 L595.40 45.50 L595.37 46.00 L595.34 46.50 L595.31 47.00 L595.27 47.50 L595.23 48.00 L595.19 48.50 L595.14 49.00 L595.09 49.50 L595.04 50.00 L594.98 50.50 L594.92 51.00 L594.86 51.50 L594.79 52.00 L594.72 52.50 L594.64 53.00 L594.56 53.50 L594.47 54.00 L594.38 54.50 L594.28 55.00 L594.18 55.50 L594.07 56.00 L593.95 56.50 L593.83 57.00 L593.71 57.50 L593.58 58.00 L593.45 58.50 L593.31 59.00 L593.16 59.50 L593.02 60.00 L592.87 60.50 L592.71 61.00 L592.55 61.50 L592.39 62.00 L592.22 62.50 L592.06 63.00 L591.89 63.50 L591.71 64.00 L591.54 64.50 L591.36 65.00 L591.18 65.50 L591.00 66.00 L590.81 66.50 L590.63 67.00 L590.44 67.50 L590.25 68.00 L590.06 68.50 L589.88 69.00 L589.69 69.50 L589.50 70.00 L589.31 70.50 L589.12 71.00 L588.93 71.50 L588.74 72.00 L588.55 72.50 L588.36 73.00 L588.18 73.50 L587.99 74.00 L587.81 74.50 L587.63 75.00 L587.45 75.50 L587.27 76.00 L587.09 76.50 L586.92 77.00 L586.75 77.50 L586.58 78.00 L586.42 78.50 L586.26 79.00 L586.10 79.50 L585.95 80.00 L585.79 80.50 L585.65 81.00 L585.50 81.50 L585.37 82.00 L585.23 82.50 L585.10 83.00 L584.97 83.50 L584.85 84.00 L584.73 84.50 L584.62 85.00 L584.51 85.50 L584.41 86.00 L584.31 86.50 L584.21 87.00 L584.12 87.50 L584.04 88.00 L583.96 88.50 L583.89 89.00 L583.82 89.50 L583.76 90.00 L583.70 90.50 L583.65 91.00 L583.60 91.50 L583.57 92.00 L583.53 92.50 L583.50 93.00 L583.48 93.50 L583.47 94.00 L583.46 94.50 L583.46 95.00 L583.46 95.50 L583.48 96.00 L583.49 96.50 L583.52 97.00 L583.55 97.50 L583.59 98.00 L583.64 98.50 L583.69 99.00 L583.75 99.50 L583.82 100.00 L583.90 100.50 L583.98 101.00 L584.07 101.50 L584.16 102.00 L584.26 102.50 L584.37 103.00 L584.49 103.50 L584.61 104.00 L584.73 104.50 L584.87 105.00 L585.01 105.50 L585.16 106.00 L585.31 106.50 L585.47 107.00 L585.63 107.50 L585.80 108.00 L585.98 108.50 L586.16 109.00 L586.35 109.50 L586.54 110.00 L586.74 110.50 L586.95 111.00 L587.16 111.50 L587.37 112.00 L587.59 112.50 L587.82 113.00 L588.05 113.50 L588.29 114.00 L588.53 114.50 L588.78 115.00 L589.03 115.50 L589.29 116.00 L589.55 116.50 L589.81 117.00 L590.08 117.50 L590.36 118.00 L590.63 118.50 L590.91 119.00 L591.20 119.50 L591.49 120.00 L591.78 120.50 L592.07 121.00 L592.37 121.50 L592.67 122.00 L592.97 122.50 L593.27 123.00 L593.58 123.50 L593.89 124.00 L594.20 124.50 L594.51 125.00 L594.82 125.50 L595.14 126.00 L595.45 126.50 L595.77 127.00 L596.09 127.50 L596.41 128.00 L596.73 128.50 L597.05 129.00 L597.37 129.50 L597.69 130.00 L598.01 130.50 L598.32 131.00 L598.64 131.50 L598.96 132.00 L599.28 132.50 L599.60 133.00 L599.91 133.50 L600.22 134.00 L600.54 134.50 L600.85 135.00 L601.16 135.50 L601.46 136.00 L601.77 136.50 L602.07 137.00 L602.37 137.50 L602.67 138.00 L602.97 138.50 L603.27 139.00 L603.56 139.50 L603.85 140.00 L604.14 140.50 L604.43 141.00 L604.71 141.50 L604.99 142.00 L605.27 142.50 L605.55 143.00 L605.83 143.50 L606.10 144.00 L606.37 144.50 L606.64 145.00 L606.91 145.50 L607.17 146.00 L607.44 146.50 L607.70 147.00 L607.96 147.50 L608.21 148.00 L608.47 148.50 L608.72 149.00 L608.97 149.50 L609.21 150.00 L609.46 150.50 L609.70 151.00 L609.94 151.50 L610.17 152.00 L610.41 152.50 L610.64 153.00 L610.87 153.50 L611.10 154.00 L611.32 154.50 L611.54 155.00 L611.76 155.50 L611.98 156.00 L612.19 156.50 L612.41 157.00 L612.62 157.50 L612.82 158.00 L613.03 158.50 L613.23 159.00 L613.43 159.50 L613.62 160.00 L613.82 160.50 L614.01 161.00 L614.20 161.50 L614.38 162.00 L614.57 162.50 L614.75 163.00 L614.92 163.50 L615.10 164.00 L615.27 164.50 L615.44 165.00 L615.61 165.50 L615.77 166.00 L615.93 166.50 L616.09 167.00 L616.24 167.50 L616.40 168.00 L616.54 168.50 L616.69 169.00 L616.83 169.50 L616.98 170.00 L617.11 170.50 L617.25 171.00 L617.38 171.50 L617.51 172.00 L617.63 172.50 L617.76 173.00 L617.88 173.50 L617.99 174.00 L618.11 174.50 L618.22 175.00 L618.33 175.50 L618.43 176.00 L618.53 176.50 L618.63 177.00 L618.73 177.50 L618.82 178.00 L618.91 178.50 L618.99 179.00 L619.08 179.50 L619.16 180.00 L619.23 180.50 L619.31 181.00 L619.38 181.50 L619.44 182.00 L619.51 182.50 L619.57 183.00 L619.60 183.30 L634.40 183.30 L634.43 183.00 L634.49 182.50 L634.56 182.00 L634.62 181.50 L634.69 181.00 L634.77 180.50 L634.84 180.00 L634.92 179.50 L635.01 179.00 L635.09 178.50 L635.18 178.00 L635.27 177.50 L635.37 177.00 L635.47 176.50 L635.57 176.00 L635.67 175.50 L635.78 175.00 L635.89 174.50 L636.01 174.00 L636.12 173.50 L636.24 173.00 L636.37 172.50 L636.49 172.00 L636.62 171.50 L636.75 171.00 L636.89 170.50 L637.02 170.00 L637.17 169.50 L637.31 169.00 L637.46 168.50 L637.60 168.00 L637.76 167.50 L637.91 167.00 L638.07 166.50 L638.23 166.00 L638.39 165.50 L638.56 165.00 L638.73 164.50 L638.90 164.00 L639.08 163.50 L639.25 163.00 L639.43 162.50 L639.62 162.00 L639.80 161.50 L639.99 161.00 L640.18 160.50 L640.38 160.00 L640.57 159.50 L640.77 159.00 L640.97 158.50 L641.18 158.00 L641.38 157.50 L641.59 157.00 L641.81 156.50 L642.02 156.00 L642.24 155.50 L642.46 155.00 L642.68 154.50 L642.90 154.00 L643.13 153.50 L643.36 153.00 L643.59 152.50 L643.83 152.00 L644.06 151.50 L644.30 151.00 L644.54 150.50 L644.79 150.00 L645.03 149.50 L645.28 149.00 L645.53 148.50 L645.79 148.00 L646.04 147.50 L646.30 147.00 L646.56 146.50 L646.83 146.00 L647.09 145.50 L647.36 145.00 L647.63 144.50 L647.90 144.00 L648.17 143.50 L648.45 143.00 L648.73 142.50 L649.01 142.00 L649.29 141.50 L649.57 141.00 L649.86 140.50 L650.15 140.00 L650.44 139.50 L650.73 139.00 L651.03 138.50 L651.33 138.00 L651.63 137.50 L651.93 137.00 L652.23 136.50 L652.54 136.00 L652.84 135.50 L653.15 135.00 L653.46 134.50 L653.78 134.00 L654.09 133.50 L654.40 133.00 L654.72 132.50 L655.04 132.00 L655.36 131.50 L655.68 131.00 L655.99 130.50 L656.31 130.00 L656.63 129.50 L656.95 129.00 L657.27 128.50 L657.59 128.00 L657.91 127.50 L658.23 127.00 L658.55 126.50 L658.86 126.00 L659.18 125.50 L659.49 125.00 L659.80 124.50 L660.11 124.00 L660.42 123.50 L660.73 123.00 L661.03 122.50 L661.33 122.00 L661.63 121.50 L661.93 121.00 L662.22 120.50 L662.51 120.00 L662.80 119.50 L663.09 119.00 L663.37 118.50 L663.64 118.00 L663.92 117.50 L664.19 117.00 L664.45 116.50 L664.71 116.00 L664.97 115.50 L665.22 115.00 L665.47 114.50 L665.71 114.00 L665.95 113.50 L666.18 113.00 L666.41 112.50 L666.63 112.00 L666.84 111.50 L667.05 111.00 L667.26 110.50 L667.46 110.00 L667.65 109.50 L667.84 109.00 L668.02 108.50 L668.20 108.00 L668.37 107.50 L668.53 107.00 L668.69 106.50 L668.84 106.00 L668.99 105.50 L669.13 105.00 L669.27 104.50 L669.39 104.00 L669.51 103.50 L669.63 103.00 L669.74 102.50 L669.84 102.00 L669.93 101.50 L670.02 101.00 L670.10 100.50 L670.18 100.00 L670.25 99.50 L670.31 99.00 L670.36 98.50 L670.41 98.00 L670.45 97.50 L670.48 97.00 L670.51 96.50 L670.52 96.00 L670.54 95.50 L670.54 95.00 L670.54 94.50 L670.53 94.00 L670.52 93.50 L670.50 93.00 L670.47 92.50 L670.43 92.00 L670.40 91.50 L670.35 91.00 L670.30 90.50 L670.24 90.00 L670.18 89.50 L670.11 89.00 L670.04 88.50 L669.96 88.00 L669.88 87.50 L669.79 87.00 L669.69 86.50 L669.59 86.00 L669.49 85.50 L669.38 85.00 L669.27 84.50 L669.15 84.00 L669.03 83.50 L668.90 83.00 L668.77 82.50 L668.63 82.00 L668.50 81.50 L668.35 81.00 L668.21 80.50 L668.05 80.00 L667.90 79.50 L667.74 79.00 L667.58 78.50 L667.42 78.00 L667.25 77.50 L667.08 77.00 L666.91 76.50 L666.73 76.00 L666.55 75.50 L666.37 75.00 L666.19 74.50 L666.01 74.00 L665.82 73.50 L665.64 73.00 L665.45 72.50 L665.26 72.00 L665.07 71.50 L664.88 71.00 L664.69 70.50 L664.50 70.00 L664.31 69.50 L664.12 69.00 L663.94 68.50 L663.75 68.00 L663.56 67.50 L663.37 67.00 L663.19 66.50 L663.00 66.00 L662.82 65.50 L662.64 65.00 L662.46 64.50 L662.29 64.00 L662.11 63.50 L661.94 63.00 L661.78 62.50 L661.61 62.00 L661.45 61.50 L661.29 61.00 L661.13 60.50 L660.98 60.00 L660.84 59.50 L660.69 59.00 L660.55 58.50 L660.42 58.00 L660.29 57.50 L660.17 57.00 L660.05 56.50 L659.93 56.00 L659.82 55.50 L659.72 55.00 L659.62 54.50 L659.53 54.00 L659.44 53.50 L659.36 53.00 L659.28 52.50 L659.21 52.00 L659.14 51.50 L659.08 51.00 L659.02 50.50 L658.96 50.00 L658.91 49.50 L658.86 49.00 L658.81 48.50 L658.77 48.00 L658.73 47.50 L658.69 47.00 L658.66 46.50 L658.63 46.00 L658.60 45.50 L658.58 45.00 L658.55 44.50 L658.53 44.00 L658.51 43.50 L658.49 43.00 L658.47 42.50 L658.46 42.00 L658.44 41.50 L658.43 41.00 L658.41 40.50 L658.40 40.00 L658.39 39.50 L658.38 39.00 L658.36 38.50 L658.35 38.00 L658.34 37.50 L658.33 37.00 L658.31 36.50 L658.30 36.00 L658.28 35.50 L658.27 35.00 L658.25 34.50 L658.23 34.00 L658.21 33.50 L658.19 33.00 L658.17 32.50 L658.14 32.00 L658.11 31.50 L658.08 31.00 L658.05 30.50 L658.01 30.00 L657.97 29.50 L657.93 29.00 L657.89 28.50 L657.84 28.00 L657.79 27.50 L657.73 27.00 L657.67 26.50 L657.61 26.00 L657.54 25.50 L657.47 25.00 L657.39 24.50 L657.31 24.00 L657.22 23.50 L657.13 23.00 L657.04 22.50 L656.94 22.00 L656.83 21.50 L656.72 21.00 L656.60 20.50 L656.47 20.00 L656.34 19.50 L656.20 19.00 L656.06 18.50 L655.91 18.00 L655.75 17.50 L655.59 17.00 L655.41 16.50 L655.23 16.00 L655.05 15.50 L654.85 15.00 L654.65 14.50 L654.44 14.00 L654.22 13.50 L654.00 13.00 L653.76 12.50 L653.52 12.00 L653.26 11.50 L653.00 11.00 Z" stroke="#f0b04f"/>
</g>
<line x1="110.50" y1="96.00" x2="110.50" y2="143.10" stroke="#000000" stroke-width="2.40"/><rect x="105.10" y="114.20" width="10.80" height="10.80" fill="#000000"/>
<line x1="222.80" y1="95.00" x2="222.80" y2="141.90" stroke="#7b2b5d" stroke-width="2.40"/><rect x="217.40" y="114.00" width="10.80" height="10.80" fill="#7b2b5d"/>
<line x1="335.40" y1="96.10" x2="335.40" y2="144.00" stroke="#f0b04f" stroke-width="2.40"/><rect x="330.00" y="114.90" width="10.80" height="10.80" fill="#f0b04f"/>
<line x1="530.45" y1="56.10" x2="530.45" y2="98.20" stroke="#7b2b5d" stroke-width="2.40"/><rect x="525.05" y="72.25" width="10.80" height="10.80" fill="#7b2b5d"/>
<line x1="627.10" y1="58.70" x2="627.10" y2="101.90" stroke="#f0b04f" stroke-width="2.40"/><rect x="621.70" y="74.85" width="10.80" height="10.80" fill="#f0b04f"/>
<line x1="166.45" y1="0.8" x2="166.45" y2="239.8" stroke="#000" stroke-width="2.4"/>
<rect x="43.35" y="0.75" width="359.15" height="239.05" fill="none" stroke="#333333" stroke-width="1.07"/>
<rect x="472.55" y="0.75" width="212.05" height="239.05" fill="none" stroke="#333333" stroke-width="1.07"/>
<path d="M37.6 229.50H43.35 M37.6 202.18H43.35 M37.6 174.86H43.35 M37.6 147.54H43.35 M37.6 120.22H43.35 M37.6 92.90H43.35 M37.6 65.58H43.35 M37.6 38.26H43.35 M37.6 10.94H43.35 M467.1 229.40H472.55 M467.1 185.71H472.55 M467.1 142.02H472.55 M467.1 98.33H472.55 M467.1 54.64H472.55 M467.1 10.95H472.55 M110.05 239.8V245.6 M222.95 239.8V245.6 M335.35 239.8V245.6 M530.10 239.8V245.6 M626.95 239.8V245.6" stroke="#2b2b2b" stroke-width="1.6" fill="none"/>
<g fill="#4d4d4d" font-size="10.8" text-anchor="end">
<text x="33.5" y="233.60">0.2</text>
<text x="33.5" y="206.28">0.4</text>
<text x="33.5" y="178.96">0.6</text>
<text x="33.5" y="151.64">0.8</text>
<text x="33.5" y="124.32">1.0</text>
<text x="33.5" y="97.00">1.2</text>
<text x="33.5" y="69.68">1.4</text>
<text x="33.5" y="42.36">1.6</text>
<text x="33.5" y="15.04">1.8</text>
<text x="463.0" y="233.50">0.75</text>
<text x="463.0" y="189.81">0.80</text>
<text x="463.0" y="146.12">0.85</text>
<text x="463.0" y="102.43">0.90</text>
<text x="463.0" y="58.74">0.95</text>
<text x="463.0" y="15.05">1.00</text>
</g>
<g fill="#4d4d4d" font-size="14" text-anchor="middle">
<text x="110.35" y="260.2">Total</text>
<text x="222.80" y="260.2">Interrupted</text>
<text x="335.30" y="260.2">Uninterrupted</text>
<text x="530.40" y="260.2">Interrupted</text>
<text x="627.00" y="260.2">Uninterrupted</text>
</g>
<g fill="#000" font-size="14" text-anchor="middle">
<text x="222.93" y="278.0">Interruption Types</text>
<text x="578.58" y="278.0">Interruption Type</text>
<text transform="translate(10.5 119.98) rotate(-90)">Good Berries per Second</text>
<text transform="translate(434.0 120.28) rotate(-90)">Positive Predictive Value</text>
</g>
<g fill="#000" font-size="12.5" font-weight="bold">
<text x="1.9" y="9.0">A</text>
<text x="427.8" y="11.0">B</text>
</g>
</svg></body></html>
